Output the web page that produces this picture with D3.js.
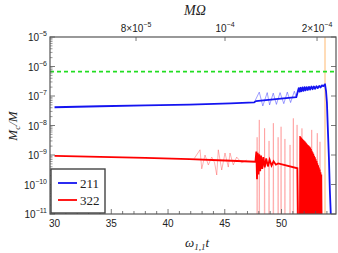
<!DOCTYPE html>
<html>
<head>
<meta charset="utf-8">
<script src="https://cdn.jsdelivr.net/npm/d3@7"></script>
<style>
body { margin: 0; background: #fff; }
svg text { font-family: "Liberation Sans", Arial, sans-serif; }
.serif { font-family: "Liberation Serif", "Times New Roman", serif; }
</style>
</head>
<body>
<svg id="chart" width="338" height="253"></svg>
<script>
var W = 338, H = 253;
var LEFT = 50, RIGHT = 336, TOP = 37, BOTTOM = 214;

// [omega t, Mc/M]
var blueTrend = [[30, 4.15e-8], [34, 4.5e-8], [38, 4.8e-8], [41.9, 5.1e-8], [45.5, 5.6e-8], [47.6, 6.1e-8], [47.75, 6.7e-8], [49.5, 7.9e-8], [51.3, 9.1e-8]];
var blueChirp = [[51.3, 9.1e-8], [51.45, 1.5e-7], [51.52, 1.85e-7], [51.6, 1.4e-7], [51.68, 1.9e-7], [51.76, 1.45e-7], [51.85, 1.95e-7], [51.94, 1.5e-7],
  [52.03, 2.0e-7], [52.12, 1.55e-7], [52.22, 2.0e-7], [52.32, 1.6e-7], [52.42, 2.05e-7], [52.52, 1.65e-7], [52.63, 2.1e-7], [52.74, 1.7e-7],
  [52.85, 2.1e-7], [52.96, 1.75e-7], [53.08, 2.15e-7], [53.2, 1.85e-7], [53.32, 2.2e-7], [53.44, 1.95e-7], [53.56, 2.3e-7], [53.68, 2.15e-7],
  [53.83, 2.5e-7], [53.92, 1.5e-7], [54.0, 6e-8], [54.1, 5e-9], [54.18, 7e-10], [54.26, 6e-11], [54.34, 1e-11]];
var blueThin = [[47.6, 6.1e-8], [48.04, 1.35e-7], [48.35, 4.6e-8], [48.74, 1.3e-7], [48.95, 5.0e-8], [49.27, 1.25e-7], [49.55, 5.2e-8],
  [49.87, 1.3e-7], [50.2, 5.5e-8], [50.51, 1.35e-7], [50.8, 6e-8], [51.13, 1.45e-7], [51.3, 9e-8]];

var redTrend = [[30, 9.3e-10], [34, 8.6e-10], [38, 8.0e-10], [41.9, 7.3e-10], [45, 6.5e-10], [47.7, 5.9e-10],
  [47.78, 1.3e-9], [47.84, 1.5e-10], [47.9, 1.2e-9], [47.97, 2.2e-10], [48.04, 1.05e-9], [48.12, 2.8e-10], [48.2, 9.5e-10],
  [48.3, 3.4e-10], [48.4, 8.5e-10], [48.52, 3.8e-10], [48.65, 7.6e-10], [48.8, 4.1e-10], [48.95, 6.9e-10], [49.12, 4.4e-10],
  [49.3, 6.1e-10], [49.5, 4.7e-10], [49.7, 5.2e-10], [51.4, 3.55e-10], [51.45, 1e-11]];
var redThin = [[42.3, 7.5e-10], [42.82, 1.5e-9], [42.97, 3.4e-10], [43.26, 1.0e-9], [43.55, 4.6e-10], [43.85, 8.5e-10], [44.1, 5.5e-10],
  [44.29, 2.1e-10], [44.43, 1.5e-9], [44.73, 3.1e-10], [45.02, 1.17e-9], [45.31, 3.9e-10], [45.46, 1.17e-9], [45.75, 4.6e-10],
  [46.05, 8.5e-10], [46.49, 5.4e-10], [46.93, 6.7e-10]];
// peaks of the dense ringing; each one falls back below the frame
var redBurst = [[51.63, 4.4e-9], [51.7, 4.1e-9], [51.77, 3.8e-9], [51.84, 3.5e-9], [51.91, 3.3e-9], [51.98, 3.1e-9], [52.05, 2.9e-9],
  [52.12, 2.7e-9], [52.19, 2.5e-9], [52.26, 2.3e-9], [52.33, 2.2e-9], [52.4, 2.05e-9], [52.47, 1.95e-9], [52.54, 1.8e-9],
  [52.61, 1.6e-9], [52.68, 1.4e-9], [52.75, 1.25e-9], [52.82, 1.1e-9], [52.89, 9.5e-10], [52.96, 8.4e-10], [53.03, 7.2e-10],
  [53.1, 6.2e-10], [53.17, 5.3e-10], [53.24, 4.5e-10], [53.31, 3.8e-10], [53.38, 3.2e-10], [53.45, 2.6e-10], [53.52, 2.2e-10]];
var redSpikes = [[47.85, 4e-9], [48.04, 1.55e-8], [48.51, 8.1e-9], [48.9, 3e-9], [49.28, 1.2e-8], [49.7, 4e-9], [49.96, 9.1e-9], [50.3, 3.5e-9],
  [50.75, 2.2e-9], [51.04, 1.75e-8], [51.37, 1.05e-8], [51.8, 8e-9], [52.66, 7.1e-9], [53.15, 5.5e-9], [53.39, 2.8e-9]];

var threshold = 6.7e-7;
var mergerT = 53.83;

var xTicks = [30, 35, 40, 45, 50];
var yTicks = [-11, -10, -9, -8, -7, -6, -5];
var topTicks = [[37.18, "8×10", "-5"], [45.02, "10", "-4"], [53.13, "2×10", "-4"]];
var legendNames = ["211", "322"];
var legendColors = ["#1414f0", "#ff0000"];

var svg = d3.select("#chart");
var x = d3.scaleLinear().domain([29.6, 54.8]).range([LEFT, RIGHT]);
var y = d3.scaleLog().domain([1e-11, 1e-5]).range([BOTTOM, TOP]);
var FLOOR = 3e-12;

svg.append("clipPath").attr("id", "clip").append("rect")
  .attr("x", LEFT).attr("y", TOP).attr("width", RIGHT - LEFT).attr("height", BOTTOM - TOP);
var plot = svg.append("g").attr("clip-path", "url(#clip)");

var line = d3.line().x(d => x(d[0])).y(d => y(Math.max(d[1], FLOOR)));

// merger marker
plot.append("line").attr("x1", x(mergerT)).attr("x2", x(mergerT)).attr("y1", TOP).attr("y2", BOTTOM)
  .attr("stroke", "#ffdcb8").attr("stroke-width", 2);

// faint spikes
var spikePath = "";
redSpikes.forEach(d => {
  spikePath += "M" + x(d[0] - 0.03) + "," + y(FLOOR) + "L" + x(d[0]) + "," + y(d[1]) + "L" + x(d[0] + 0.03) + "," + y(FLOOR);
});
plot.append("path").attr("d", spikePath).attr("fill", "none").attr("stroke", "rgba(255,60,60,0.3)").attr("stroke-width", 1);

plot.append("path").datum(redThin).attr("d", line).attr("fill", "none")
  .attr("stroke", "rgba(255,80,80,0.45)").attr("stroke-width", 1);
plot.append("path").datum(blueThin).attr("d", line).attr("fill", "none")
  .attr("stroke", "rgba(40,40,255,0.45)").attr("stroke-width", 1);

plot.append("path").datum(redTrend).attr("d", line).attr("fill", "none")
  .attr("stroke", "#ff0000").attr("stroke-width", 1.8);

var burstPath = "M" + x(redBurst[0][0] - 0.03) + "," + y(FLOOR);
redBurst.forEach(d => {
  burstPath += "L" + x(d[0]) + "," + y(d[1]) + "L" + x(d[0] + 0.035) + "," + y(FLOOR);
});
plot.append("path").attr("d", burstPath).attr("fill", "none").attr("stroke", "#ff0000").attr("stroke-width", 1.4);

plot.append("path").datum(blueTrend.concat(blueChirp.slice(1))).attr("d", line).attr("fill", "none")
  .attr("stroke", "#1414f0").attr("stroke-width", 1.8).attr("stroke-linejoin", "round");

plot.append("line").attr("x1", LEFT).attr("x2", RIGHT).attr("y1", y(threshold)).attr("y2", y(threshold))
  .attr("stroke", "#22dd22").attr("stroke-width", 1.6).attr("stroke-dasharray", "4,3");

// frame and ticks
var axisColor = "#555";
var frame = svg.append("g");
frame.append("rect").attr("x", LEFT).attr("y", TOP).attr("width", RIGHT - LEFT).attr("height", BOTTOM - TOP)
  .attr("fill", "none").attr("stroke", axisColor).attr("stroke-width", 1.2);

var minorX = d3.range(30, 55, 1);
minorX.forEach(t => {
  var len = xTicks.indexOf(t) >= 0 ? 5 : 3;
  frame.append("line").attr("x1", x(t)).attr("x2", x(t)).attr("y1", BOTTOM).attr("y2", BOTTOM - len)
    .attr("stroke", axisColor).attr("stroke-width", 0.8);
});
xTicks.forEach(t => {
  frame.append("text").attr("x", x(t)).attr("y", BOTTOM + 13).attr("text-anchor", "middle")
    .attr("font-size", 10).attr("fill", "#222").text(t);
});

yTicks.forEach(e => {
  frame.append("line").attr("x1", LEFT).attr("x2", LEFT + 5).attr("y1", y(Math.pow(10, e))).attr("y2", y(Math.pow(10, e)))
    .attr("stroke", axisColor).attr("stroke-width", 0.8);
  frame.append("line").attr("x1", RIGHT).attr("x2", RIGHT - 5).attr("y1", y(Math.pow(10, e))).attr("y2", y(Math.pow(10, e)))
    .attr("stroke", axisColor).attr("stroke-width", 0.8);
  if (e < -5) {
    d3.range(2, 10).forEach(m => {
      var v = m * Math.pow(10, e);
      frame.append("line").attr("x1", LEFT).attr("x2", LEFT + 2.5).attr("y1", y(v)).attr("y2", y(v))
        .attr("stroke", axisColor).attr("stroke-width", 0.6);
    });
  }
  var t = frame.append("text").attr("x", LEFT - 3).attr("y", y(Math.pow(10, e)) + 4)
    .attr("text-anchor", "end").attr("font-size", 10).attr("fill", "#222");
  t.append("tspan").text("10");
  t.append("tspan").attr("dy", -5).attr("font-size", 7).text("−" + (-e));
});

topTicks.forEach(d => {
  frame.append("line").attr("x1", x(d[0])).attr("x2", x(d[0])).attr("y1", TOP).attr("y2", TOP + 4)
    .attr("stroke", axisColor).attr("stroke-width", 0.8);
  var t = frame.append("text").attr("x", x(d[0])).attr("y", TOP - 5).attr("text-anchor", "middle")
    .attr("font-size", 10).attr("fill", "#222");
  t.append("tspan").text(d[1]);
  t.append("tspan").attr("dy", -5).attr("font-size", 7).text("−" + d[2].slice(1));
});

// titles
svg.append("text").attr("class", "serif").attr("x", (LEFT + RIGHT) / 2 + 2).attr("y", 15)
  .attr("text-anchor", "middle").attr("font-size", 14).attr("font-style", "italic").attr("fill", "#222").text("MΩ");

var xt = svg.append("text").attr("class", "serif").attr("x", 197).attr("y", 247)
  .attr("text-anchor", "middle").attr("font-size", 13).attr("font-style", "italic").attr("fill", "#222");
xt.append("tspan").text("ω");
xt.append("tspan").attr("dy", 3).attr("font-size", 9).text("1,1");
xt.append("tspan").attr("dy", -3).text("t");

var yt = svg.append("text").attr("class", "serif").attr("transform", "translate(17,126) rotate(-90)")
  .attr("text-anchor", "middle").attr("font-size", 13).attr("font-style", "italic").attr("fill", "#222");
yt.append("tspan").text("M");
yt.append("tspan").attr("dy", 3).attr("font-size", 9).text("c");
yt.append("tspan").attr("dy", -3).text("/M");

// legend
var lg = svg.append("g");
lg.append("rect").attr("x", 51).attr("y", 169).attr("width", 54).attr("height", BOTTOM - 169 - 1)
  .attr("fill", "#fff").attr("stroke", "#444").attr("stroke-width", 1.4);
legendNames.forEach((n, i) => {
  var ly = 183 + i * 17;
  lg.append("line").attr("x1", 58).attr("x2", 77).attr("y1", ly).attr("y2", ly)
    .attr("stroke", legendColors[i]).attr("stroke-width", 1.8);
  lg.append("text").attr("class", "serif").attr("x", 80).attr("y", ly + 4.5)
    .attr("font-size", 13).attr("fill", "#222").text(n);
});
</script>
</body>
</html>
